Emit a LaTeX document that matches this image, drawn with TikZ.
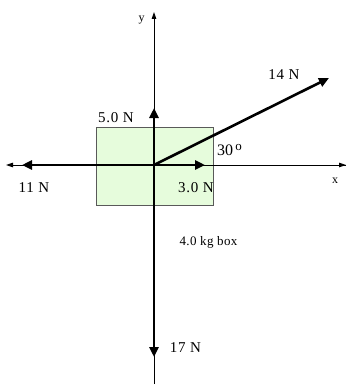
\documentclass[tikz,border=0pt]{standalone}
\usepackage{fontspec}
\setmainfont{Liberation Serif}
\usetikzlibrary{arrows.meta}
\definecolor{boxgreen}{RGB}{230,252,220}
\begin{document}
\begin{tikzpicture}[x=1pt,y=-1pt,
  axis/.style={line width=0.9pt,-{Triangle[length=7pt,width=4.5pt]}},
  force/.style={line width=2.6pt,-{Triangle[length=10pt,width=9pt]}},
  lbl/.style={font=\fontsize{15}{15}\selectfont\addfontfeature{LetterSpace=5},inner sep=0pt,anchor=base},
  small/.style={font=\fontsize{13}{13}\selectfont\addfontfeature{LetterSpace=3},inner sep=0pt,anchor=base},
  axlbl/.style={font=\fontsize{12}{12}\selectfont,inner sep=0pt,anchor=base}]
\useasboundingbox (0,0) rectangle (347,385);
\coordinate (O) at (154,165);
\node[draw=gray!70!black,line width=0.5pt,fill=boxgreen,minimum width=117pt,minimum height=78pt,inner sep=0pt] (box) at (154.5,166) {};
% axes
\coordinate (xL) at (6,165);
\coordinate (xR) at (346,165);
\coordinate (yT) at (154,12);
\coordinate (yB) at (154,384);
\draw[axis] (xR) -- (xL);
\draw[axis] (O) -- (xR);
\draw[axis] (yB) -- (yT);
\node[axlbl] (ylab) at (141.5,22) {y};
\node[axlbl] (xlab) at (335,183) {x};
% forces
\coordinate (f5) at (154,108);
\coordinate (f3) at (205,165);
\coordinate (f14) at (329,78);
\coordinate (f11) at (22,165);
\coordinate (f17) at (154,357);
\draw[force] (O) -- (f5);
\draw[force] (O) -- (f3);
\draw[force] (O) -- (f14);
\draw[force] (O) -- (f11);
\draw[force] (O) -- (f17);
\node[lbl] (l5) at (116,122) {5.0 N};
\node[lbl] (l3) at (196,192) {3.0 N};
\node[lbl] (l14) at (284,80) {14 N};
\node[lbl] (l11) at (34,192) {11 N};
\node[lbl] (l17) at (185.5,352) {17 N};
\node[lbl,font=\fontsize{16}{16}\selectfont] (l30) at (225,155) {30};
\node[lbl,font=\fontsize{13}{13}\selectfont] (l30o) at (238.5,150) {o};
\node[small] (lbox) at (208.5,245.5) {4.0 kg box};
\end{tikzpicture}
\end{document}
